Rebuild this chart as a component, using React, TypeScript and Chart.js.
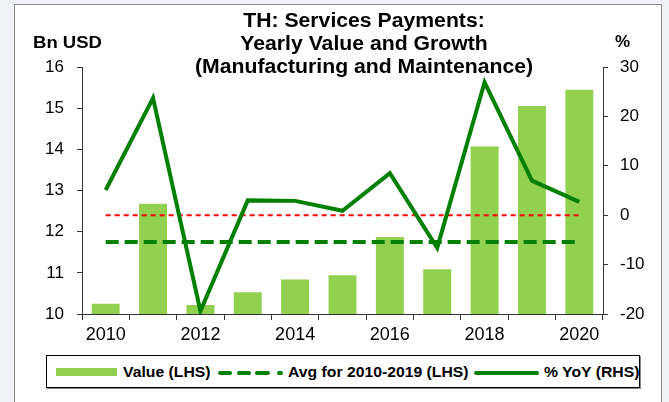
import React, { useEffect, useRef } from 'react';
import { Chart, registerables } from 'chart.js';

Chart.register(...registerables);

const FONT = '"Liberation Sans", Arial, Helvetica, sans-serif';

const years = ['2010', '2011', '2012', '2013', '2014', '2015', '2016', '2017', '2018', '2019', '2020'];
const valueBn = [10.25, 12.68, 10.22, 10.53, 10.84, 10.94, 11.87, 11.09, 14.07, 15.05, 15.45];
const avgBn = [11.75, 11.75, 11.75, 11.75, 11.75, 11.75, 11.75, 11.75, 11.75, 11.75, 11.75];
const yoyPct = [5.1, 23.7, -19.4, 3.0, 2.9, 0.9, 8.5, -6.6, 26.9, 7.0, 2.7];
const zeroPct = [0, 0, 0, 0, 0, 0, 0, 0, 0, 0, 0];

const titleLines = ['TH: Services Payments:', 'Yearly Value and Growth', '(Manufacturing and Maintenance)'];
const leftAxisTitle = 'Bn USD';
const rightAxisTitle = '%';
const leftRange = { min: 10, max: 16, step: 1 };
const rightRange = { min: -20, max: 30, step: 10 };
const legendLabels = ['Value (LHS)', 'Avg for 2010-2019 (LHS)', '% YoY (RHS)'];

const BAR = '#92d050';
const GREEN = '#008000';
const AXIS = '#333333';

export default function App() {
  const ref = useRef<HTMLCanvasElement | null>(null);

  useEffect(() => {
    document.body.style.margin = '0';
    const canvas = ref.current;
    if (!canvas) return;
    const chart = new Chart(canvas, {
      type: 'bar',
      data: {
        labels: years,
        datasets: [
          {
            type: 'line',
            label: legendLabels[2],
            data: yoyPct,
            yAxisID: 'y1',
            borderColor: GREEN,
            borderWidth: 4,
            pointRadius: 0,
            tension: 0,
            borderJoinStyle: 'miter',
            order: 1,
          } as any,
          {
            type: 'line',
            label: 'zero',
            data: zeroPct,
            yAxisID: 'y1',
            borderColor: '#ff0000',
            borderWidth: 2,
            borderDash: [5, 4],
            pointRadius: 0,
            order: 2,
          } as any,
          {
            type: 'line',
            label: legendLabels[1],
            data: avgBn,
            yAxisID: 'y',
            borderColor: GREEN,
            borderWidth: 4,
            borderDash: [13, 6],
            pointRadius: 0,
            order: 2,
          } as any,
          {
            type: 'bar',
            label: legendLabels[0],
            data: valueBn,
            yAxisID: 'y',
            backgroundColor: BAR,
            barPercentage: 0.59,
            categoryPercentage: 1,
            order: 3,
          } as any,
        ],
      },
      options: {
        responsive: false,
        animation: false,
        devicePixelRatio: 1,
        layout: { padding: { top: 67, left: 0, right: 0, bottom: 0 } },
        plugins: { legend: { display: false }, tooltip: { enabled: false }, title: { display: false } },
        scales: {
          x: {
            type: 'category',
            offset: true,
            grid: { display: true, offset: true, drawOnChartArea: false, drawTicks: true, tickLength: 6, color: AXIS },
            border: { display: true, color: AXIS, width: 1 },
            ticks: {
              autoSkip: false,
              maxRotation: 0,
              padding: 4,
              color: '#000',
              font: { family: FONT, size: 18 },
              callback: (_v: any, i: number) => (i % 2 === 0 ? years[i] : ''),
            },
            afterFit: (s: any) => {
              s.height = 36;
              s.paddingLeft = 0;
              s.paddingRight = 0;
            },
          },
          y: {
            position: 'left',
            min: leftRange.min,
            max: leftRange.max,
            grid: { display: true, drawOnChartArea: false, drawTicks: true, tickLength: 5, color: AXIS },
            border: { display: true, color: AXIS, width: 1 },
            ticks: { stepSize: leftRange.step, padding: 13, color: '#000', font: { family: FONT, size: 17 } },
            afterFit: (s: any) => {
              s.width = 82;
              s.paddingTop = 0;
              s.paddingBottom = 0;
            },
          },
          y1: {
            position: 'right',
            min: rightRange.min,
            max: rightRange.max,
            grid: { display: true, drawOnChartArea: false, drawTicks: true, tickLength: 5, color: AXIS },
            border: { display: true, color: AXIS, width: 1 },
            ticks: { stepSize: rightRange.step, padding: 12, color: '#000', font: { family: FONT, size: 17 } },
            afterFit: (s: any) => {
              s.width = 66;
              s.paddingTop = 0;
              s.paddingBottom = 0;
            },
          },
        },
      } as any,
    });
    return () => chart.destroy();
  }, []);

  const text = { position: 'absolute' as const, fontFamily: FONT, fontWeight: 'bold' as const, color: '#000', whiteSpace: 'nowrap' as const };
  const legText = { ...text, top: 7, fontSize: 15, lineHeight: '18px', transform: 'scaleX(1.05)', transformOrigin: 'left center' };
  const dash = (l: number, w: number) => (
    <div style={{ position: 'absolute', left: l, top: 15, width: w, height: 4, borderRadius: 2, background: GREEN }} />
  );

  return (
    <div style={{ position: 'relative', width: 669, height: 402, overflow: 'hidden', background: '#f1f1f8' }}>
      <div style={{ position: 'absolute', left: 14, top: 4, width: 648, height: 420, background: '#fff', border: '1px solid #8a8a8a', boxSizing: 'border-box' }} />
      <canvas ref={ref} width={669} height={350} style={{ position: 'absolute', left: 0, top: 0, width: 669, height: 350 }} />
      <div style={{ ...text, left: 164, width: 400, top: 9, textAlign: 'center', fontSize: 20, lineHeight: '23px', transform: 'scaleX(1.06)', transformOrigin: 'center center' }}>
        {titleLines.map((t) => (
          <div key={t}>{t}</div>
        ))}
      </div>
      <div style={{ ...text, left: 33, top: 33, fontSize: 17, lineHeight: '20px', transform: 'scaleX(1.09)', transformOrigin: 'left center' }}>{leftAxisTitle}</div>
      <div style={{ ...text, left: 615, top: 32, fontSize: 17, lineHeight: '20px' }}>{rightAxisTitle}</div>
      <div style={{ position: 'absolute', left: 46, top: 355, width: 594, height: 33, background: '#fff', border: '1px solid #000', boxShadow: '1px 1px 0 #888', boxSizing: 'border-box' }}>
        <div style={{ position: 'absolute', left: 9, top: 12, width: 61, height: 8, background: BAR }} />
        <div style={{ ...legText, left: 76 }}>{legendLabels[0]}</div>
        {dash(171, 14)}
        {dash(190, 14)}
        {dash(208, 15)}
        {dash(230, 6)}
        <div style={{ ...legText, left: 241 }}>{legendLabels[1]}</div>
        <div style={{ position: 'absolute', left: 427, top: 15, width: 65, height: 4, borderRadius: 2, background: GREEN }} />
        <div style={{ ...legText, left: 497 }}>{legendLabels[2]}</div>
      </div>
    </div>
  );
}
